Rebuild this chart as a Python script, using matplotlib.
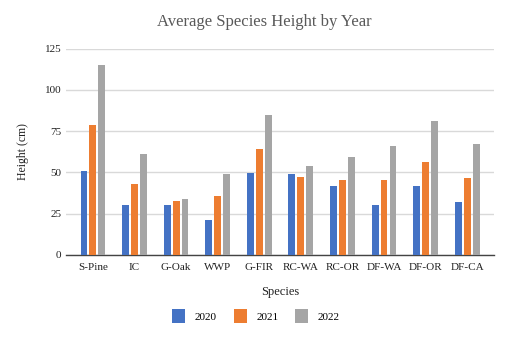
import numpy as np
import matplotlib.pyplot as plt

plt.rcParams['font.family'] = ['Liberation Serif', 'DejaVu Serif']

species = ['S-Pine', 'IC', 'G-Oak', 'WWP', 'G-FIR', 'RC-WA', 'RC-OR', 'DF-WA', 'DF-OR', 'DF-CA']
h2020 = [51, 30.5, 30, 21.5, 49.5, 49, 41.5, 30, 42, 32]
h2021 = [79, 43, 32.5, 35.5, 64, 47, 45.5, 45.5, 56.5, 46.5]
h2022 = [115, 61, 34, 49, 85, 54, 59.5, 66, 81, 67.5]
years = ['2020', '2021', '2022']
colors = ['#4472C4', '#ED7D31', '#A5A5A5']

fig = plt.figure(figsize=(5.12, 3.4), dpi=100)
ax = fig.add_axes([0.129, 0.25, 0.836, 0.607])

x = np.arange(len(species))
step = 0.215
width = 0.165
handles = []
for i, (vals, c) in enumerate(zip([h2020, h2021, h2022], colors)):
    b = ax.bar(x + (i - 1) * step, vals, width, color=c, zorder=3)
    handles.append(b)

ax.set_xlim(-0.645, len(species) - 0.355)
ax.set_ylim(0, 125)
ax.set_yticks([0, 25, 50, 75, 100, 125])
ax.set_xticks(x)
ax.set_xticklabels(species)
ax.tick_params(axis='both', length=0, labelsize=8, colors='#222222')
ax.tick_params(axis='x', pad=6)
ax.grid(axis='y', color='#d9d9d9', linewidth=1, zorder=0)
for s in ['top', 'right', 'left']:
    ax.spines[s].set_visible(False)
ax.spines['bottom'].set_color('#444444')
ax.spines['bottom'].set_linewidth(1)

ax.set_xlabel('Species', fontsize=9, labelpad=10, color='#222222')
ax.set_ylabel('Height (cm)', fontsize=8.5, labelpad=11, color='#222222')
fig.text(264 / 512, 1 - 22 / 340, 'Average Species Height by Year', ha='center',
         va='center', fontsize=12, color='#595959')

fig.legend(handles, years, loc='center', bbox_to_anchor=(0.5, 1 - 316 / 340),
           ncol=3, frameon=False, fontsize=8, handlelength=1.2, handleheight=1.6,
           columnspacing=1.5, handletextpad=0.85)

fig.savefig('out.png', dpi=100)
